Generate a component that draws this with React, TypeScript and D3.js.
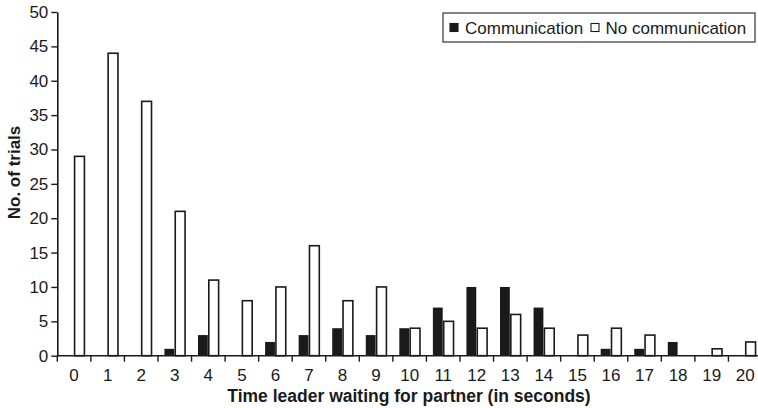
import React, { useEffect, useRef } from "react";
import * as d3 from "d3";

const seconds = ["0","1","2","3","4","5","6","7","8","9","10","11","12","13","14","15","16","17","18","19","20"];
const communication = [0, 0, 0, 1, 3, 0, 2, 3, 4, 3, 4, 7, 10, 10, 7, 0, 1, 1, 2, 0, 0];
const noCommunication = [29, 44, 37, 21, 11, 8, 10, 16, 8, 10, 4, 5, 4, 6, 4, 3, 4, 3, 0, 1, 2];
const yTicks = [0, 5, 10, 15, 20, 25, 30, 35, 40, 45, 50];
const seriesNames = ["Communication", "No communication"];

const W = 758, H = 408;
const FONT = "'Liberation Sans', Arial, Helvetica, sans-serif";

export default function App() {
  const ref = useRef<SVGSVGElement>(null);

  useEffect(() => {
    const svg = d3.select(ref.current);
    svg.selectAll("*").remove();

    const left = 57.3, right = 762, top = 12, bottom = 355.7;

    const x = d3.scaleBand().domain(seconds).range([left, right]).padding(0);
    const y = d3.scaleLinear().domain([0, 50]).range([bottom, top]);
    const inner = d3.scaleBand().domain(seriesNames).range([0, x.bandwidth()]).paddingInner(0).paddingOuter(0.55);

    const g = svg.append("g");

    // bars
    const rows = seconds.map((s, i) => ({ s, vals: [communication[i], noCommunication[i]] }));
    rows.forEach(r => {
      r.vals.forEach((v, j) => {
        if (v <= 0) return;
        g.append("rect")
          .attr("x", x(r.s)! + inner(seriesNames[j])! + 0.5)
          .attr("y", y(v))
          .attr("width", inner.bandwidth() - 1)
          .attr("height", y(0) - y(v))
          .attr("fill", j === 0 ? "#1a1a1a" : "#fff")
          .attr("stroke", "#1a1a1a")
          .attr("stroke-width", j === 0 ? 0 : 1.6);
      });
    });

    // y axis
    const ya = g.append("g").attr("transform", `translate(${left},0)`)
      .call(d3.axisLeft(y).tickValues(yTicks).tickSize(6).tickPadding(3).tickSizeOuter(0));
    ya.select(".domain").attr("stroke", "#1a1a1a").attr("stroke-width", 1.6);
    ya.selectAll(".tick line").attr("stroke", "#1a1a1a").attr("stroke-width", 1.4);
    ya.selectAll(".tick text").attr("font-family", FONT).attr("font-size", 17).attr("fill", "#1a1a1a");

    // x axis: ticks at band edges
    const xa = g.append("g").attr("transform", `translate(0,${bottom})`);
    xa.append("line").attr("x1", left).attr("x2", W).attr("y1", 0).attr("y2", 0)
      .attr("stroke", "#1a1a1a").attr("stroke-width", 1.6);
    seconds.forEach(s => {
      xa.append("line").attr("x1", x(s)!).attr("x2", x(s)!).attr("y1", 0).attr("y2", 6)
        .attr("stroke", "#1a1a1a").attr("stroke-width", 1.4);
      xa.append("text").attr("x", x(s)! + x.bandwidth() / 2).attr("y", 25.5)
        .attr("text-anchor", "middle").attr("font-family", FONT).attr("font-size", 17)
        .attr("fill", "#1a1a1a").text(s);
    });

    // axis titles
    svg.append("text").attr("x", 409).attr("y", 401.5).attr("text-anchor", "middle")
      .attr("font-family", FONT).attr("font-size", 17.5).attr("font-weight", "bold").attr("fill", "#1a1a1a")
      .text("Time leader waiting for partner (in seconds)");
    svg.append("text").attr("transform", "translate(19.5,172.5) rotate(-90)").attr("text-anchor", "middle")
      .attr("font-family", FONT).attr("font-size", 17).attr("font-weight", "bold").attr("fill", "#1a1a1a")
      .text("No. of trials");

    // legend
    const lg = svg.append("g");
    lg.append("rect").attr("x", 443).attr("y", 13).attr("width", 312).attr("height", 29)
      .attr("fill", "#fff").attr("stroke", "#333").attr("stroke-width", 1.2);
    const items = [
      { name: seriesNames[0], sx: 450, tx: 465, fill: "#1a1a1a" },
      { name: seriesNames[1], sx: 591, tx: 605.5, fill: "#fff" },
    ];
    items.forEach(it => {
      lg.append("rect").attr("x", it.sx).attr("y", 23.5).attr("width", 8).attr("height", 8)
        .attr("fill", it.fill).attr("stroke", "#1a1a1a").attr("stroke-width", 1.1);
      lg.append("text").attr("x", it.tx).attr("y", 33.5).attr("font-family", FONT).attr("font-size", 17)
        .attr("fill", "#1a1a1a").text(it.name);
    });
  }, []);

  return (
    <svg ref={ref} width={W} height={H} style={{ position: "absolute", left: 0, top: 0, background: "#fff" }} />
  );
}
